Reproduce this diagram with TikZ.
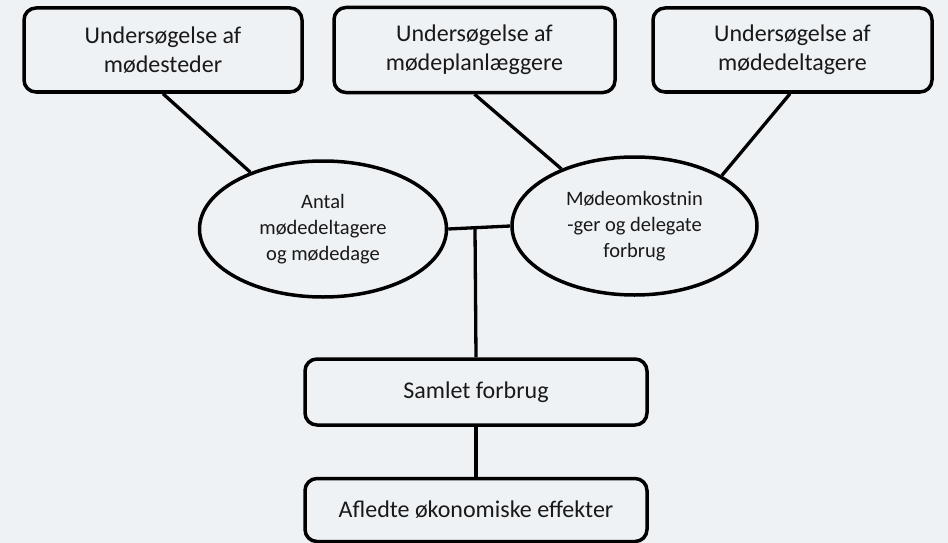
\documentclass[tikz,border=0pt]{standalone}
\usepackage{fontspec}
\setmainfont{Carlito}
\usetikzlibrary{shapes.geometric}
\definecolor{bgc}{RGB}{238,242,245}
\definecolor{txt}{RGB}{25,25,25}
\begin{document}
\begin{tikzpicture}[x=1pt,y=-1pt,
  conn/.style={line width=3.3pt,black},
  boxn/.style={draw=black,line width=3.5pt,rounded corners=12pt,fill=bgc,align=center,
    text=txt,font=\fontsize{24}{29}\selectfont,inner sep=0pt},
  ell/.style={draw=black,line width=3.5pt,ellipse,fill=bgc,align=center,
    text=txt,font=\fontsize{20.5}{26}\selectfont,inner sep=0pt}]
\fill[bgc] (0,0) rectangle (948,543);
\useasboundingbox (0,0) rectangle (948,543);
\node[boxn,minimum width=278pt,minimum height=84pt] (b1) at (163,50) {Undersøgelse af\\mødesteder};
\node[boxn,minimum width=281pt,minimum height=85pt] (b2) at (474.5,50) {Undersøgelse af\\mødeplanlæggere};
\node[boxn,minimum width=279pt,minimum height=84pt] (b3) at (792.5,50) {Undersøgelse af\\mødedeltagere};
\node[ell,minimum width=247pt,minimum height=136pt] (e1) at (323,229) {};
\node[txt,align=center,font=\fontsize{20.5}{26}\selectfont] at (e1) {Antal\\mødedeltagere\\og mødedage};
\node[ell,minimum width=245pt,minimum height=138pt] (e2) at (634.5,226) {};
\node[txt,align=center,font=\fontsize{20.5}{26}\selectfont] at (e2) {Mødeomkostnin\\-ger og delegate\\forbrug};
\node[boxn,minimum width=342pt,minimum height=66pt] (s) at (476,392) {Samlet forbrug};
\node[boxn,minimum width=342pt,minimum height=63pt] (a) at (476,510) {Afledte økonomiske effekter};
\coordinate (j) at (475,228);
\draw[conn] (b1.south) -- (e1.142);
\draw[conn] (b2.south) -- (e2.142);
\draw[conn] ([xshift=-2.5pt]b3.south) -- (e2.30);
\draw[conn] (e1.east) -- (e2.west);
\draw[conn] (j) -- (s.north);
\draw[conn] (s.south) -- (a.north);
\end{tikzpicture}
\end{document}
